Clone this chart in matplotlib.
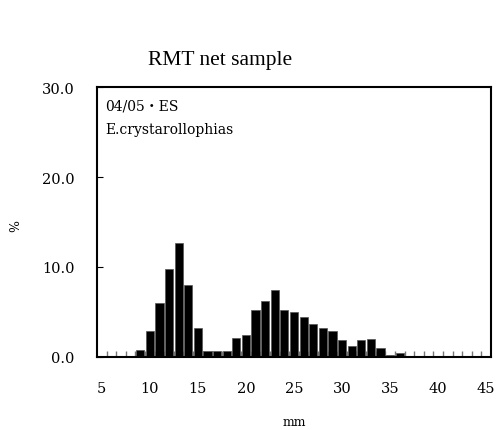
import numpy as np
import matplotlib
matplotlib.use("Agg")
import matplotlib.pyplot as plt

plt.rcParams['font.family'] = ['DejaVu Serif', 'Noto Sans CJK JP']

# length class (mm) and percentage
length_mm = list(range(5, 46))
pct = [0, 0, 0, 0, 0.8, 2.85, 6.0, 9.8, 12.7, 8.0, 3.2, 0.65, 0.65, 0.65,
       2.1, 2.45, 5.2, 6.2, 7.4, 5.2, 5.0, 4.4, 3.65, 3.2, 2.85, 1.85, 1.2,
       1.85, 2.05, 1.05, 0.2, 0.4, 0, 0, 0, 0, 0, 0, 0, 0, 0]
title = "RMT net sample"
label_date = "04/05・ES"
label_species = "E.crystarollophias"

fig = plt.figure(figsize=(4.99, 4.31), dpi=100)
ax = fig.add_axes([0.1944, 0.1694, 0.7896, 0.6264])

ax.bar(length_mm, pct, width=0.85, color='black', edgecolor='#555555', linewidth=0.5, zorder=2)

ax.set_xlim(4.5, 45.5)
ax.set_ylim(0, 30)
ax.set_xticks(range(5, 46, 5))
ax.set_xticks(np.arange(5.5, 45, 1), minor=True)
ax.set_yticks([0, 10, 20, 30])
ax.set_yticklabels(['0.0', '10.0', '20.0', '30.0'])
ax.tick_params(axis='x', which='major', length=0, pad=17, labelsize=10.5)
ax.tick_params(axis='x', which='minor', direction='in', length=4, color='#777777', width=1)
ax.tick_params(axis='y', which='major', direction='in', length=4, pad=16, labelsize=10.5)
for s in ax.spines.values():
    s.set_linewidth(1.5)
    s.set_zorder(3)

ax.set_xlabel('mm', fontsize=9, labelpad=15)
ax.set_ylabel('%', fontsize=9)
ax.yaxis.set_label_coords(-0.19, 0.49)

ax.text(0.02, 0.93, label_date, transform=ax.transAxes, fontsize=10, va='center')
ax.text(0.02, 0.845, label_species, transform=ax.transAxes, fontsize=10, va='center')

fig.text(0.297, 0.86, title, family='Liberation Serif', fontsize=15.5, va='center')

fig.savefig('out.png', dpi=100)
